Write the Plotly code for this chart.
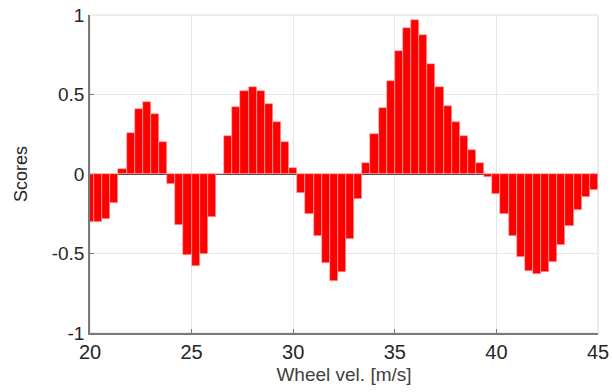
import plotly.graph_objects as go

# Wheel velocity positions (m/s), step 0.4 from 20 to 44.8
wheel_vel = [round(20 + 0.4 * i, 1) for i in range(63)]

scores = [
    -0.30, -0.30, -0.28, -0.18, 0.03, 0.26, 0.41, 0.45, 0.38, 0.20,
    -0.06, -0.32, -0.51, -0.58, -0.50, -0.27, 0.00, 0.24, 0.42, 0.52,
    0.55, 0.52, 0.44, 0.33, 0.20, 0.04, -0.12, -0.25, -0.39, -0.56,
    -0.67, -0.615, -0.41, -0.155, 0.067, 0.253, 0.418, 0.584, 0.776, 0.92,
    0.967, 0.874, 0.69, 0.546, 0.427, 0.324, 0.236, 0.154, 0.071, -0.019,
    -0.126, -0.249, -0.389, -0.525, -0.611, -0.632, -0.615, -0.555, -0.446, -0.325,
    -0.224, -0.147, -0.099,
]

x_ticks = [20, 25, 30, 35, 40, 45]
y_ticks = [-1, -0.5, 0, 0.5, 1]
y_tick_text = ["-1", "-0.5", "0", "0.5", "1"]

fig = go.Figure()
fig.add_trace(go.Bar(
    x=wheel_vel, y=scores,
    width=0.4,
    marker=dict(color="#ff0000", line=dict(color="#ffb0b0", width=0.6)),
    showlegend=False,
))

font_family = "Liberation Sans, Arial, sans-serif"

fig.update_layout(
    width=613, height=392,
    margin=dict(l=90, r=15, t=15, b=59, autoexpand=False),
    paper_bgcolor="white", plot_bgcolor="white",
    bargap=0,
    font=dict(family=font_family, color="#262626"),
    shapes=[dict(type="rect", xref="paper", yref="paper", x0=0, y0=0, x1=1, y1=1,
                 line=dict(color="#e8e8e8", width=1.5), layer="below")],
)
fig.update_xaxes(
    range=[20, 45], tickvals=x_ticks, ticktext=[str(t) for t in x_ticks],
    showgrid=True, gridcolor="#e6e6e6", gridwidth=1,
    showline=True, linecolor="#7a7a7a", linewidth=1.5,
    ticks="inside", ticklen=4, tickcolor="#7a7a7a",
    tickfont=dict(size=20, color="#262626"),
    title=dict(text="Wheel vel. [m/s]", font=dict(size=19, color="#404040"), standoff=6),
    zeroline=False, automargin=False,
)
fig.update_yaxes(
    range=[-1, 1], tickvals=y_ticks, ticktext=y_tick_text,
    showgrid=True, gridcolor="#e6e6e6", gridwidth=1,
    showline=True, linecolor="#7a7a7a", linewidth=1.5,
    ticks="inside", ticklen=4, tickcolor="#7a7a7a",
    tickfont=dict(size=19, color="#262626"),
    title=dict(text="Scores", font=dict(size=18, color="#262626"), standoff=19),
    zeroline=True, zerolinecolor="#404040", zerolinewidth=1.2,
    automargin=False,
)

fig.write_html("out.html")
